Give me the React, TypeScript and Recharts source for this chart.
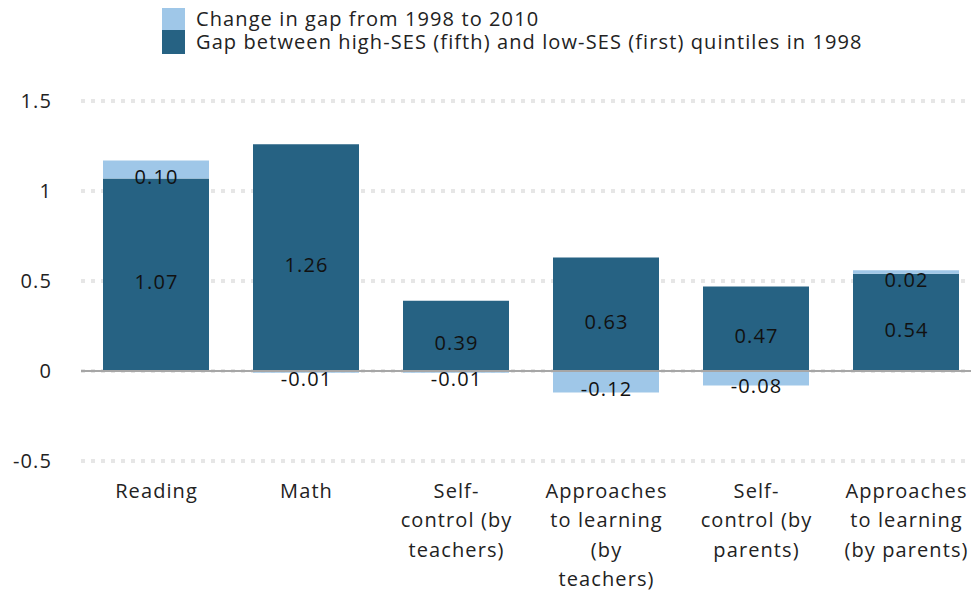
import React from "react";
import { BarChart, Bar, XAxis, YAxis, CartesianGrid, ReferenceLine, LabelList } from "recharts";

const categories = ["Reading", "Math", "Self-control (by teachers)", "Approaches to learning (by teachers)", "Self-control (by parents)", "Approaches to learning (by parents)"];
const tickLines: string[][] = [
  ["Reading"],
  ["Math"],
  ["Self-", "control (by", "teachers)"],
  ["Approaches", "to learning", "(by", "teachers)"],
  ["Self-", "control (by", "parents)"],
  ["Approaches", "to learning", "(by parents)"],
];
const gap1998 = [1.07, 1.26, 0.39, 0.63, 0.47, 0.54];
const change = [0.1, -0.01, -0.01, -0.12, -0.08, 0.02];
const yTicks = [-0.5, 0, 0.5, 1, 1.5];
const seriesNames = ["Change in gap from 1998 to 2010", "Gap between high-SES (fifth) and low-SES (first) quintiles in 1998"];

const DARK = "#266283";
const LIGHT = "#9fc7e8";
const FONT = "'Open Sans', sans-serif";
const LS = 1.1;

const data = categories.map((c, i) => ({ name: c, gap: gap1998[i], change: change[i], idx: i }));

const CatTick = (props: any) => {
  const { x, y, payload } = props;
  const lines = tickLines[payload.index] || [String(payload.value)];
  return (
    <g>
      {lines.map((l, k) => (
        <text key={k} x={x + LS / 2} y={y + 21 + k * 29.5} textAnchor="middle" dominantBaseline="central" fill="#222" fontSize={20} fontFamily={FONT} letterSpacing={LS}>
          {l}
        </text>
      ))}
    </g>
  );
};

const makeLabel = () => (props: any) => {
  const { x, y, width, height, value } = props;
  return (
    <text x={x + width / 2 + LS / 2} y={y + height / 2 + 7} textAnchor="middle" dominantBaseline="central" fill="#111" fontSize={20} fontFamily={FONT} letterSpacing={LS}>
      {Number(value).toFixed(2)}
    </text>
  );
};

const LegendBox = () => (
  <div style={{ position: "absolute", top: 8, left: 162, width: 800, fontFamily: FONT, fontSize: 20, color: "#222", whiteSpace: "nowrap", letterSpacing: LS }}>
    <div style={{ display: "flex", alignItems: "center", height: 22 }}>
      <div style={{ width: 23, height: 22, background: LIGHT, marginRight: 11, flex: "none" }} />
      <span style={{ lineHeight: "22px" }}>{seriesNames[0]}</span>
    </div>
    <div style={{ display: "flex", alignItems: "center", height: 24 }}>
      <div style={{ width: 23, height: 24, background: DARK, marginRight: 11, flex: "none" }} />
      <span style={{ lineHeight: "24px" }}>{seriesNames[1]}</span>
    </div>
  </div>
);

export default function App() {
  return (
    <div style={{ position: "fixed", top: 0, left: 0, width: 971, height: 594, overflow: "hidden", background: "#fff" }}>
      <div style={{ position: "absolute", top: 8, left: 8 }}>
        <BarChart
          width={975}
          height={586}
          data={data}
          stackOffset="sign"
          margin={{ top: 93, right: 2, bottom: 0, left: 0 }}
          barSize={106}
        >
          <CartesianGrid vertical={false} stroke="#e6e6e6" strokeDasharray="4 6" strokeWidth={4} />
          <XAxis dataKey="name" axisLine={false} tickLine={false} interval={0} tick={<CatTick />} height={133} />
          <YAxis
            type="number"
            domain={[-0.5, 1.5]}
            ticks={yTicks}
            axisLine={false}
            tickLine={false}
            width={73}
            tickMargin={23}
            tick={{ fill: "#222", fontSize: 20, fontFamily: FONT, letterSpacing: LS }}
          />
          <ReferenceLine y={0} stroke="#a6a6a6" strokeWidth={2} />
          <Bar dataKey="gap" stackId="a" fill={DARK} isAnimationActive={false} name={seriesNames[1]}>
            <LabelList dataKey="gap" content={makeLabel()} />
          </Bar>
          <Bar dataKey="change" stackId="a" fill={LIGHT} isAnimationActive={false} name={seriesNames[0]}>
            <LabelList dataKey="change" content={makeLabel()} />
          </Bar>
        </BarChart>
      </div>
      <LegendBox />
    </div>
  );
}
